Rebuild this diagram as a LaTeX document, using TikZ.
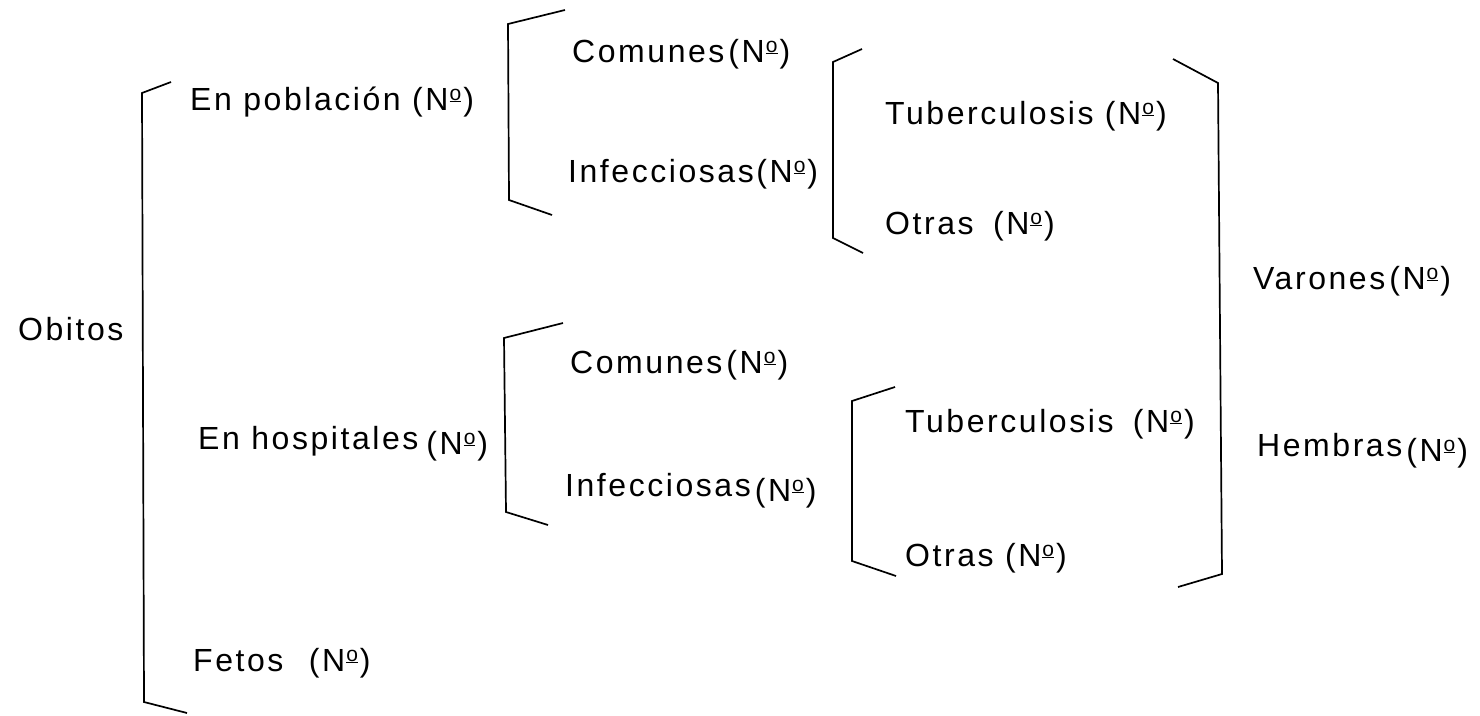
\documentclass[tikz,border=0pt]{standalone}
\usepackage{fontspec}
\setmainfont{Liberation Sans}[LetterSpace=8]
\newcommand\ordo{\hspace{1pt}\raisebox{10pt}{\fontsize{21}{21}\selectfont\underline{o}}\hspace{2pt}}
\newcommand\numb{(N\ordo)}
\newcommand\lowN{\raisebox{-5pt}{\fontsize{32}{34}\selectfont\numb}}
\begin{document}
\begin{tikzpicture}[x=1pt,y=-1pt,
  lbl/.style={anchor=base west,inner sep=0pt,font=\fontsize{32}{36}\selectfont},
  brk/.style={line width=1.7pt,line join=miter}]
\useasboundingbox (0,0) rectangle (1480,715);
% labels
\node[lbl] (obitos) at (18,340) {Obitos};
\node[lbl] (pob) at (190,110) {En población \numb};
\node[lbl] (com1) at (572,62) {Comunes\hspace{4pt}\numb};
\node[lbl] (inf1) at (568,182) {Infecciosas\numb};
\node[lbl] (tub1) at (885,124) {Tuberculosis \numb};
\node[lbl] (otr1) at (885,234) {Otras\hspace{8pt} \numb};
\node[lbl] (var) at (1253,289) {Varones\hspace{4pt}\numb};
\node[lbl] (hosp) at (198,449) {En hospitales\hspace{8pt}\lowN};
\node[lbl] (com2) at (570,373) {Comunes\hspace{4pt}\numb};
\node[lbl] (inf2) at (565,496) {Infecciosas\hspace{4pt}\lowN};
\node[lbl] (tub2) at (905,432) {Tuberculosis\hspace{8pt} \numb};
\node[lbl] (otr2) at (905,566) {Otras \numb};
\node[lbl] (hem) at (1257,456) {Hembras\hspace{4pt}\lowN};
\node[lbl] (fet) at (193,671) {Fetos\hspace{14pt} \numb};
% brackets
\draw[brk] (171,82) -- (142,93) -- (144,702) -- (187,713);
\draw[brk] (565,10) -- (508,24) -- (509,200) -- (552,215);
\draw[brk] (862,49) -- (833,62) -- (833,238) -- (863,253);
\draw[brk] (1173,59) -- (1218,83) -- (1222,574) -- (1178,587);
\draw[brk] (563,323) -- (504,338) -- (506,512) -- (548,525);
\draw[brk] (895,387) -- (852,401) -- (852,561) -- (896,576);
\end{tikzpicture}
\end{document}
